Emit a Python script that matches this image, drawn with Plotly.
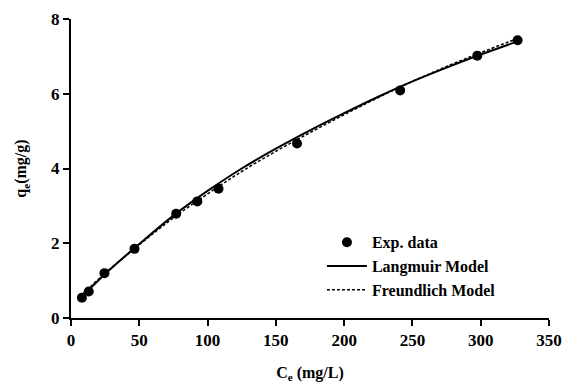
import plotly.graph_objects as go

# Experimental data
ce_exp = [8, 13, 24.5, 46.5, 77, 92.5, 108, 165.5, 241, 297.5, 327]
qe_exp = [0.54, 0.71, 1.20, 1.85, 2.79, 3.12, 3.46, 4.67, 6.09, 7.02, 7.43]

# Model curves
ce_model = [6, 25, 50, 75, 100, 125, 150, 175, 200, 225, 250, 275, 300, 327]
qe_langmuir = [0.50, 1.18, 1.98, 2.74, 3.40, 4.00, 4.53, 5.02, 5.48, 5.92, 6.33, 6.70, 7.05, 7.40]
qe_freundlich = [0.55, 1.20, 1.96, 2.68, 3.32, 3.92, 4.46, 4.96, 5.44, 5.90, 6.33, 6.73, 7.10, 7.48]

x_ticks = [0, 50, 100, 150, 200, 250, 300, 350]
y_ticks = [0, 2, 4, 6, 8]

font_family = "Liberation Serif"

fig = go.Figure()
fig.add_trace(go.Scatter(x=ce_exp, y=qe_exp, mode="markers", name="<b>Exp. data</b>",
                         marker=dict(color="black", size=10)))
fig.add_trace(go.Scatter(x=ce_model, y=qe_langmuir, mode="lines", name="<b>Langmuir Model</b>",
                         line=dict(color="black", width=2, shape="spline")))
fig.add_trace(go.Scatter(x=ce_model, y=qe_freundlich, mode="lines", name="<b>Freundlich Model</b>",
                         line=dict(color="black", width=1.5, dash="3px,2px", shape="spline")))

fig.update_layout(
    width=565, height=383,
    margin=dict(l=71, r=16, t=19, b=65),
    paper_bgcolor="white", plot_bgcolor="white",
    font=dict(family=font_family, color="black", size=17),
    showlegend=True,
    legend=dict(x=0.525, y=0.31, xanchor="left", yanchor="top",
                bgcolor="rgba(0,0,0,0)", font=dict(size=16, family=font_family),
                tracegroupgap=0, itemwidth=40),
    xaxis=dict(range=[0, 350], tickvals=x_ticks, ticktext=[f"<b>{v}</b>" for v in x_ticks],
               showline=True, linecolor="black", linewidth=2, ticks="outside",
               ticklen=6, tickwidth=2, tickcolor="black", showgrid=False, zeroline=False,
               tickfont=dict(size=17), automargin=False,
               title=dict(text="<b>C<sub>e</sub> (mg/L)</b>", font=dict(size=16), standoff=20)),
    yaxis=dict(range=[0, 8], tickvals=y_ticks, ticktext=[f"<b>{v}</b>" for v in y_ticks],
               showline=True, linecolor="black", linewidth=2, ticks="outside",
               ticklen=6, tickwidth=2, tickcolor="black", showgrid=False, zeroline=False,
               tickfont=dict(size=17), automargin=False,
               title=dict(text="<b>q<sub>e</sub>(mg/g)</b>", font=dict(size=16), standoff=20)),
)

fig.write_html("out.html")
